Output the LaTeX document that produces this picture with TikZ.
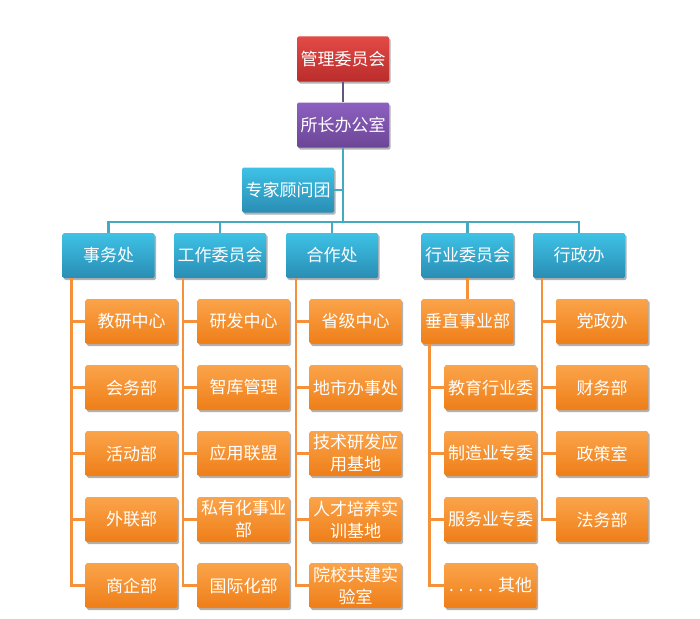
\documentclass[tikz,border=0pt]{standalone}
\usepackage{fontspec}
\newfontfamily\cjk{Noto Sans CJK SC}
\usetikzlibrary{shadows}
\definecolor{bluetop}{HTML}{3EC2E6}
\definecolor{bluebot}{HTML}{2A8DB4}
\definecolor{orgtop}{HTML}{FBA44A}
\definecolor{orgbot}{HTML}{EE7E18}
\definecolor{redtop}{HTML}{E24A46}
\definecolor{redbot}{HTML}{BA2C2C}
\definecolor{purtop}{HTML}{8D60C0}
\definecolor{purbot}{HTML}{6C4696}
\definecolor{busc}{HTML}{45A9BF}
\definecolor{orgline}{HTML}{F5913A}
\definecolor{purline}{HTML}{65557F}
\tikzset{
  box/.style={minimum width=92pt, minimum height=45pt, inner sep=0pt, text=white,
    align=center, rounded corners=1.5pt, font=\cjk\fontsize{17}{22}\selectfont,
    drop shadow={shadow xshift=1.5pt, shadow yshift=-2pt, opacity=0.3, fill=black}},
  bluebox/.style={box, top color=bluetop, bottom color=bluebot},
  orgbox/.style={box, top color=orgtop, bottom color=orgbot},
  redbox/.style={box, top color=redtop, bottom color=redbot},
  purbox/.style={box, top color=purtop, bottom color=purbot},
  busline/.style={draw=busc, line width=2.5pt},
  orgconn/.style={draw=orgline, line width=2.5pt},
}
\begin{document}
\begin{tikzpicture}[x=1pt,y=-1pt]
\fill[white] (0,0) rectangle (700,618);
\useasboundingbox (0,0) rectangle (700,618);

% top
\node[redbox] (mgmt) at (343,59) {管理委员会};
\node[purbox] (office) at (343,125) {所长办公室};
\node[bluebox] (expert) at (288,190) {专家顾问团};
\coordinate (bus) at (343,222);

% level 2
\node[bluebox] (ss) at (108.5,255.5) {事务处};
\node[bluebox] (gz) at (220,255.5) {工作委员会};
\node[bluebox] (hz) at (332,255.5) {合作处};
\node[bluebox] (hy) at (467.5,255.5) {行业委员会};
\node[bluebox] (xz) at (579,255.5) {行政办};

% connectors top
\draw[draw=purline, line width=2.5pt] (mgmt) -- (office);
\draw[busline] (office.south) -- (bus);
\draw[busline] (expert.east) -- (expert.east -| bus);
\foreach \n in {ss,gz,hz,hy,xz} \draw[busline] (bus) -| (\n.north);

% 事务处 children
\node[orgbox] (ss1) at (131.5,321.5) {教研中心};
\node[orgbox] (ss2) at (131.5,387.5) {会务部};
\node[orgbox] (ss3) at (131.5,453.5) {活动部};
\node[orgbox] (ss4) at (131.5,519.5) {外联部};
\node[orgbox] (ss5) at (131.5,585.5) {商企部};

% 工作委员会 children
\node[orgbox] (gz1) at (243.5,321.5) {研发中心};
\node[orgbox] (gz2) at (243.5,387.5) {智库管理};
\node[orgbox] (gz3) at (243.5,453.5) {应用联盟};
\node[orgbox] (gz4) at (243.5,519.5) {私有化事业\\部};
\node[orgbox] (gz5) at (243.5,585.5) {国际化部};

% 合作处 children
\node[orgbox] (hz1) at (355.5,321.5) {省级中心};
\node[orgbox] (hz2) at (355.5,387.5) {地市办事处};
\node[orgbox] (hz3) at (355.5,453.5) {技术研发应\\用基地};
\node[orgbox] (hz4) at (355.5,519.5) {人才培养实\\训基地};
\node[orgbox] (hz5) at (355.5,585.5) {院校共建实\\验室};

% 行业委员会
\node[orgbox] (cz) at (467.5,321.5) {垂直事业部};
\node[orgbox] (cz1) at (490.5,387.5) {教育行业委};
\node[orgbox] (cz2) at (490.5,453.5) {制造业专委};
\node[orgbox] (cz3) at (490.5,519.5) {服务业专委};
\node[orgbox] (cz4) at (490.5,585.5) {. . . . . 其他};

% 行政办 children
\node[orgbox] (xz1) at (602,321.5) {党政办};
\node[orgbox] (xz2) at (602,387.5) {财务部};
\node[orgbox] (xz3) at (602,453.5) {政策室};
\node[orgbox] (xz4) at (602,519.5) {法务部};

% orange connectors
\draw[orgconn] (hy.south) -- (cz.north);
\foreach \c in {ss1,ss2,ss3,ss4,ss5} \draw[orgconn] ([xshift=9pt]ss.south west) |- (\c.west);
\foreach \c in {gz1,gz2,gz3,gz4,gz5} \draw[orgconn] ([xshift=9pt]gz.south west) |- (\c.west);
\foreach \c in {hz1,hz2,hz3,hz4,hz5} \draw[orgconn] ([xshift=10pt]hz.south west) |- (\c.west);
\foreach \c in {cz1,cz2,cz3,cz4} \draw[orgconn] ([xshift=8pt]cz.south west) |- (\c.west);
\foreach \c in {xz1,xz2,xz3,xz4} \draw[orgconn] ([xshift=9pt]xz.south west) |- (\c.west);
\end{tikzpicture}
\end{document}
